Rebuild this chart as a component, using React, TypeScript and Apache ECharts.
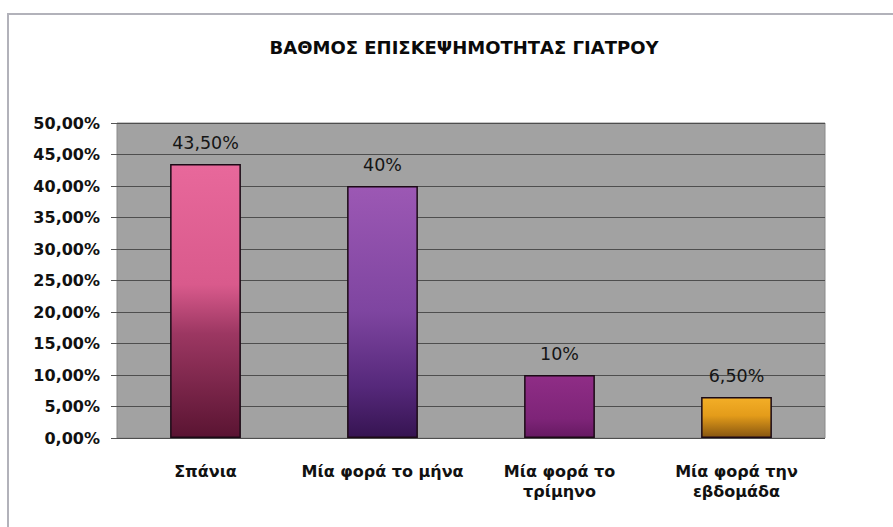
import React, { useEffect, useRef } from "react";
import * as echarts from "echarts";

const title = "ΒΑΘΜΟΣ ΕΠΙΣΚΕΨΗΜΟΤΗΤΑΣ ΓΙΑΤΡΟΥ";
const categories = ["Σπάνια", "Μία φορά το μήνα", "Μία φορά το\nτρίμηνο", "Μία φορά την\nεβδομάδα"];
const values = [43.5, 40, 10, 6.5];
const valueLabels = ["43,50%", "40%", "10%", "6,50%"];
const yMin = 0;
const yMax = 50;
const yStep = 5;

const gradients = [
  [[0, "#e8689b"], [0.44, "#d95a8c"], [0.62, "#9c3762"], [1, "#5a1432"]],
  [[0, "#9c58b4"], [0.5, "#7e45a0"], [0.8, "#55287a"], [1, "#361452"]],
  [[0, "#8f2d86"], [0.7, "#7e2478"], [1, "#661a62"]],
  [[0, "#f3ae27"], [0.45, "#e49c1a"], [1, "#875610"]],
];

export default function App() {
  const ref = useRef<HTMLDivElement>(null);
  useEffect(() => {
    document.body.style.margin = "0";
    const chart = echarts.init(ref.current!, null, { renderer: "svg" });
    const font = "'DejaVu Sans', sans-serif";
    chart.setOption({
      animation: false,
      backgroundColor: "#ffffff",
      title: {
        text: title,
        left: 459,
        top: 33,
        textAlign: "center",
        textStyle: { fontFamily: font, fontWeight: "bold", fontSize: 18, color: "#0a0a0a" },
      },
      graphic: [
        {
          type: "rect",
          shape: { x: 8, y: 14, width: 900, height: 600 },
          style: { fill: "none", stroke: "#b2b2ba", lineWidth: 2 },
          silent: true,
        },
      ],
      grid: {
        left: 117,
        right: 68,
        top: 123,
        bottom: 89,
        show: true,
        backgroundColor: "#a2a2a2",
        borderColor: "#8a8a8a",
        borderWidth: 1,
      },
      xAxis: {
        type: "category",
        data: categories,
        axisLine: { show: false },
        axisTick: { show: false },
        axisLabel: {
          fontFamily: font,
          fontWeight: "bold",
          fontSize: 16,
          color: "#111",
          margin: 23,
          lineHeight: 20,
          interval: 0,
        },
      },
      yAxis: {
        type: "value",
        min: yMin,
        max: yMax,
        interval: yStep,
        axisLine: { show: false },
        axisTick: { show: true, length: 6, lineStyle: { color: "#555" } },
        splitLine: { lineStyle: { color: "#4e4e4e", width: 1 } },
        axisLabel: {
          fontFamily: font,
          fontWeight: "bold",
          fontSize: 16,
          color: "#111",
          margin: 17,
          formatter: (v: number) => v.toFixed(2).replace(".", ",") + "%",
        },
      },
      series: [
        {
          type: "bar",
          barWidth: "40%",
          data: values.map((v, i) => ({
            value: v,
            itemStyle: {
              color: new echarts.graphic.LinearGradient(
                0, 0, 0, 1,
                gradients[i].map(([o, c]) => ({ offset: o as number, color: c as string }))
              ),
              borderColor: "#1c0a16",
              borderWidth: 1.5,
            },
            label: { formatter: valueLabels[i] },
          })),
          label: {
            show: true,
            position: "top",
            distance: 12,
            fontFamily: font,
            fontSize: 17.5,
            color: "#151515",
          },
        },
      ],
    });
    return () => chart.dispose();
  }, []);
  return <div ref={ref} style={{ width: 893, height: 527 }} />;
}
